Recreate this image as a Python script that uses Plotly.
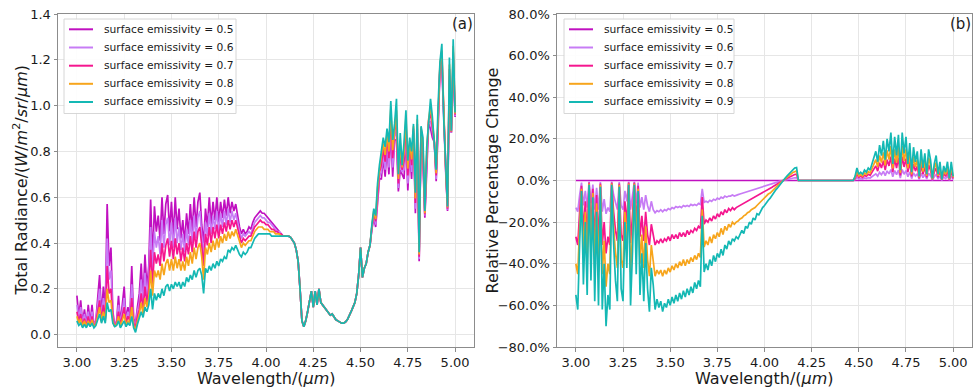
import numpy as np
import plotly.graph_objects as go

# Wavelength grid, 3.00 .. 5.00 um in 0.01 um steps
wavelength = np.round(np.arange(300, 501) / 100, 2)

emissivity = ["0.5", "0.6", "0.7", "0.8", "0.9"]
colors = ["#c010c0", "#c77cf5", "#f5168f", "#f7a51c", "#14b8b4"]

# ---------------- (a) total radiance, W/m^2/sr/um ----------------
# 3.00 .. 4.09 um
rad_05_head = [
    0.17, 0.08, 0.15, 0.05, 0.11, 0.04, 0.13, 0.05, 0.13, 0.04,
    0.06, 0.18, 0.26, 0.08, 0.21, 0.10, 0.57, 0.30, 0.38, 0.10,
    0.04, 0.06, 0.17, 0.05, 0.13, 0.21, 0.06, 0.12, 0.08, 0.30,
    0.07, 0.05, 0.12, 0.18, 0.31, 0.15, 0.35, 0.20, 0.30, 0.59,
    0.32, 0.56, 0.45, 0.52, 0.41, 0.60, 0.44, 0.57, 0.61, 0.45,
    0.58, 0.43, 0.60, 0.46, 0.55, 0.42, 0.50, 0.40, 0.53, 0.44,
    0.57, 0.45, 0.60, 0.47, 0.58, 0.62, 0.48, 0.40, 0.55, 0.47,
    0.60, 0.48, 0.58, 0.50, 0.60, 0.49, 0.58, 0.51, 0.59, 0.52,
    0.60, 0.53, 0.58, 0.54, 0.57, 0.51, 0.47, 0.44, 0.46, 0.44,
    0.45, 0.47, 0.46, 0.49, 0.51, 0.52, 0.53, 0.54, 0.53, 0.53,
    0.52, 0.51, 0.50, 0.49, 0.48, 0.47, 0.46, 0.45, 0.44, 0.43,
]
rad_06_head = [
    0.13, 0.07, 0.12, 0.045, 0.09, 0.04, 0.10, 0.045, 0.10, 0.04,
    0.055, 0.14, 0.20, 0.07, 0.16, 0.085, 0.42, 0.24, 0.28, 0.08,
    0.04, 0.055, 0.13, 0.045, 0.10, 0.16, 0.055, 0.10, 0.07, 0.22,
    0.06, 0.04, 0.10, 0.14, 0.24, 0.13, 0.27, 0.17, 0.25, 0.47,
    0.27, 0.45, 0.38, 0.43, 0.35, 0.50, 0.38, 0.48, 0.51, 0.39,
    0.49, 0.38, 0.51, 0.40, 0.47, 0.37, 0.44, 0.36, 0.46, 0.39,
    0.50, 0.40, 0.52, 0.42, 0.51, 0.54, 0.43, 0.35, 0.49, 0.43,
    0.53, 0.44, 0.52, 0.46, 0.54, 0.45, 0.53, 0.47, 0.54, 0.48,
    0.55, 0.49, 0.54, 0.50, 0.53, 0.48, 0.45, 0.42, 0.44, 0.43,
    0.44, 0.45, 0.44, 0.47, 0.49, 0.50, 0.51, 0.52, 0.51, 0.51,
    0.50, 0.49, 0.49, 0.48, 0.47, 0.46, 0.45, 0.45, 0.44, 0.43,
]
rad_07_head = [
    0.10, 0.06, 0.09, 0.04, 0.07, 0.035, 0.08, 0.04, 0.08, 0.035,
    0.05, 0.11, 0.15, 0.06, 0.13, 0.07, 0.30, 0.18, 0.20, 0.07,
    0.035, 0.05, 0.10, 0.04, 0.08, 0.12, 0.05, 0.08, 0.06, 0.16,
    0.05, 0.03, 0.08, 0.11, 0.18, 0.11, 0.21, 0.14, 0.20, 0.37,
    0.22, 0.36, 0.31, 0.35, 0.30, 0.40, 0.32, 0.39, 0.42, 0.34,
    0.41, 0.33, 0.42, 0.35, 0.40, 0.32, 0.38, 0.32, 0.40, 0.35,
    0.43, 0.36, 0.45, 0.38, 0.45, 0.47, 0.39, 0.30, 0.44, 0.39,
    0.47, 0.40, 0.47, 0.42, 0.48, 0.42, 0.48, 0.44, 0.49, 0.45,
    0.50, 0.46, 0.50, 0.47, 0.50, 0.46, 0.43, 0.40, 0.42, 0.41,
    0.42, 0.43, 0.43, 0.45, 0.47, 0.48, 0.49, 0.50, 0.49, 0.49,
    0.48, 0.48, 0.47, 0.46, 0.46, 0.45, 0.45, 0.44, 0.44, 0.43,
]
rad_08_head = [
    0.08, 0.05, 0.07, 0.035, 0.06, 0.035, 0.06, 0.04, 0.065, 0.035,
    0.045, 0.09, 0.12, 0.055, 0.10, 0.06, 0.20, 0.14, 0.15, 0.06,
    0.035, 0.045, 0.08, 0.035, 0.06, 0.09, 0.04, 0.06, 0.05, 0.12,
    0.04, 0.02, 0.06, 0.09, 0.14, 0.09, 0.16, 0.12, 0.16, 0.28,
    0.17, 0.28, 0.25, 0.28, 0.24, 0.31, 0.26, 0.31, 0.33, 0.28,
    0.33, 0.28, 0.34, 0.29, 0.33, 0.28, 0.32, 0.28, 0.34, 0.30,
    0.36, 0.31, 0.38, 0.33, 0.38, 0.40, 0.34, 0.24, 0.38, 0.35,
    0.40, 0.36, 0.41, 0.37, 0.42, 0.38, 0.43, 0.40, 0.44, 0.41,
    0.45, 0.42, 0.45, 0.43, 0.46, 0.43, 0.40, 0.38, 0.40, 0.39,
    0.40, 0.41, 0.41, 0.43, 0.45, 0.46, 0.47, 0.47, 0.47, 0.46,
    0.46, 0.46, 0.45, 0.45, 0.45, 0.44, 0.44, 0.44, 0.43, 0.43,
]
rad_09_head = [
    0.06, 0.04, 0.05, 0.03, 0.045, 0.03, 0.05, 0.035, 0.05, 0.03,
    0.04, 0.07, 0.09, 0.05, 0.08, 0.05, 0.14, 0.10, 0.11, 0.05,
    0.035, 0.04, 0.06, 0.03, 0.045, 0.06, 0.035, 0.05, 0.04, 0.08,
    0.03, 0.01, 0.045, 0.07, 0.10, 0.075, 0.12, 0.10, 0.13, 0.20,
    0.11, 0.18, 0.15, 0.18, 0.16, 0.20, 0.17, 0.21, 0.22, 0.19,
    0.22, 0.20, 0.23, 0.21, 0.23, 0.20, 0.23, 0.21, 0.25, 0.23,
    0.26, 0.24, 0.28, 0.25, 0.28, 0.29, 0.26, 0.18, 0.29, 0.27,
    0.30, 0.28, 0.31, 0.29, 0.32, 0.30, 0.33, 0.32, 0.34, 0.33,
    0.37, 0.36, 0.38, 0.37, 0.39, 0.37, 0.35, 0.34, 0.36, 0.35,
    0.36, 0.38, 0.38, 0.40, 0.42, 0.43, 0.44, 0.44, 0.44, 0.44,
    0.44, 0.44, 0.44, 0.43, 0.43, 0.43, 0.43, 0.43, 0.43, 0.43,
]
# 4.10 .. 4.55 um, where all five curves coincide
rad_shared = [
    0.43, 0.43, 0.43, 0.425, 0.415, 0.40, 0.37, 0.32, 0.20, 0.06,
    0.035, 0.06, 0.10, 0.14, 0.19, 0.12, 0.19, 0.13, 0.20, 0.14,
    0.13, 0.12, 0.11, 0.10, 0.085, 0.09, 0.075, 0.065, 0.06, 0.055,
    0.05, 0.05, 0.055, 0.065, 0.08, 0.10, 0.12, 0.14, 0.18, 0.26,
    0.38, 0.25, 0.29, 0.31, 0.36, 0.39,
]
# 4.56 .. 5.00 um
rad_05_tail = [
    0.46, 0.51, 0.47, 0.58, 0.68, 0.68, 0.77, 0.69, 0.82, 0.70,
    0.89, 0.69, 0.85, 0.85, 0.625, 0.72, 0.70, 0.68, 0.87, 0.63,
    0.80, 0.68, 0.88, 0.53, 0.88, 0.32, 0.89, 0.75, 0.51, 0.73,
    0.92, 0.90, 0.86, 0.84, 0.67, 0.89, 1.16, 1.17, 0.935, 0.70,
    0.54, 1.11, 0.88, 1.18, 0.95,
]
rad_06_tail = [
    0.465, 0.52, 0.48, 0.60, 0.69, 0.71, 0.79, 0.72, 0.84, 0.73,
    0.92, 0.73, 0.865, 0.89, 0.64, 0.76, 0.71, 0.72, 0.895, 0.66,
    0.815, 0.71, 0.89, 0.55, 0.90, 0.33, 0.895, 0.775, 0.52, 0.75,
    0.927, 0.93, 0.88, 0.842, 0.68, 0.915, 1.167, 1.19, 0.936, 0.71,
    0.545, 1.13, 0.882, 1.205, 0.955,
]
rad_07_tail = [
    0.47, 0.53, 0.495, 0.62, 0.71, 0.74, 0.815, 0.755, 0.86, 0.77,
    0.955, 0.77, 0.885, 0.94, 0.66, 0.80, 0.72, 0.76, 0.925, 0.695,
    0.83, 0.74, 0.90, 0.575, 0.92, 0.34, 0.90, 0.805, 0.525, 0.775,
    0.935, 0.965, 0.905, 0.845, 0.695, 0.945, 1.175, 1.22, 0.937, 0.725,
    0.55, 1.16, 0.885, 1.235, 0.96,
]
rad_08_tail = [
    0.475, 0.54, 0.505, 0.64, 0.72, 0.77, 0.835, 0.785, 0.88, 0.80,
    0.985, 0.805, 0.90, 0.98, 0.68, 0.835, 0.73, 0.795, 0.95, 0.725,
    0.845, 0.765, 0.91, 0.595, 0.94, 0.35, 0.905, 0.83, 0.53, 0.795,
    0.94, 0.995, 0.925, 0.847, 0.705, 0.97, 1.18, 1.24, 0.939, 0.735,
    0.555, 1.18, 0.887, 1.26, 0.965,
]
rad_09_tail = [
    0.48, 0.55, 0.52, 0.66, 0.74, 0.80, 0.86, 0.82, 0.90, 0.84,
    1.02, 0.85, 0.92, 1.03, 0.70, 0.88, 0.74, 0.84, 0.98, 0.76,
    0.86, 0.80, 0.92, 0.62, 0.96, 0.36, 0.91, 0.86, 0.54, 0.82,
    0.95, 1.03, 0.95, 0.85, 0.72, 1.00, 1.19, 1.27, 0.94, 0.75,
    0.56, 1.21, 0.89, 1.29, 0.97,
]

radiance = [
    rad_05_head + rad_shared + rad_05_tail,
    rad_06_head + rad_shared + rad_06_tail,
    rad_07_head + rad_shared + rad_07_tail,
    rad_08_head + rad_shared + rad_08_tail,
    rad_09_head + rad_shared + rad_09_tail,
]

# ---------------- (b) relative change vs emissivity 0.5, % ----------------
# 3.00 .. 4.17 um
rel_06_head = [
    -13, -15, -7, -1, -12, -5, -13, -0.5, -11, -2,
    -14, -3.5, -14, -0.7, -15, -9, -16, -13, -15, -0.5,
    -7, -11, -14, -0.7, -12, -14, -5, -10, -0.5, -14,
    -8, -0.5, -11, -1, -13, -8, -14, -7, -12, -15,
    -10,
    -14, -15.5, -14.5, -15, -14, -15, -14, -14.5, -13.5, -14,
    -13, -13.5, -12.5, -13, -12.5, -13, -12, -12.5, -12, -12.5,
    -11.5, -12, -11.5, -12, -11, -11.5,
    -4,
    -10.5, -10, -10.5, -9.5, -10, -9, -9.5, -8.5, -9, -8,
    -8.5, -7.5, -8, -7.5, -7.5, -7, -7.5, -7, -6.8, -6.5,
    -6.2, -6, -5.7, -5.4, -5.1, -4.8, -4.5, -4.3, -4, -3.7,
    -3.4, -3.1, -2.8, -2.5, -2.2, -1.9, -1.6, -1.3, -1, -0.7,
    -0.4, -0.2,
    0.05, 0.3, 0.5, 0.7, 0.9, 1.1, 1.3, 1.4,
]
rel_07_head = [
    -27, -31, -15, -2.5, -25, -10, -27, -1, -24, -4,
    -29, -7, -30, -1.5, -31, -20, -35, -27, -31, -1,
    -15, -24, -29, -1.5, -26, -29, -10, -21, -1, -30,
    -17, -1, -22, -2.5, -27, -17, -29, -15, -26, -31,
    -21,
    -27, -31, -29, -30, -28, -30, -28, -29, -27, -29,
    -26, -28, -26, -28, -25, -27, -25, -27, -24, -26,
    -24, -25, -23, -24, -22, -23,
    -8,
    -21, -19, -20, -18, -19.5, -17, -18.5, -16, -17.5, -15,
    -16.5, -14, -15.5, -13.5, -14.5, -13, -14, -13, -12.5, -12,
    -11.5, -11, -10.5, -10, -9.5, -9, -8.5, -8, -7.5, -7,
    -6.5, -6, -5.5, -5, -4.3, -3.8, -3.2, -2.6, -2, -1.5,
    -1, -0.5,
    0.1, 0.6, 1.1, 1.6, 2.0, 2.5, 2.9, 3.0,
]
rel_08_head = [
    -40, -45, -22, -4, -36, -15, -40, -1.5, -35, -6,
    -42, -11, -44, -2, -45, -29, -51, -40, -45, -1.5,
    -22, -35, -42, -2, -38, -42, -15, -31, -1.5, -44,
    -26, -1.5, -33, -4, -40, -26, -42, -22, -38, -46,
    -31,
    -38, -46, -43, -45, -43, -46, -43, -45, -42, -44,
    -41, -43, -40, -42, -39, -41, -38, -41, -38, -40,
    -37, -39, -36, -38, -35, -37,
    -14,
    -32, -29, -31, -27, -30, -26, -28, -25, -27, -23,
    -26, -22, -24, -21, -22.5, -20, -21, -20, -19.5, -18.5,
    -18, -17, -16.5, -15.5, -15, -14, -13.5, -13, -12, -11,
    -10, -9.5, -8.5, -7.5, -6.5, -6, -5, -4, -3.2, -2.4,
    -1.5, -0.7,
    0.15, 0.9, 1.7, 2.4, 3.1, 3.8, 4.4, 4.6,
]
rel_09_head = [
    -55, -62, -30, -5, -50, -20, -55, -2, -48, -8,
    -58, -15, -60, -3, -62, -40, -70, -55, -62, -2,
    -30, -48, -58, -3, -52, -58, -20, -42, -2, -60,
    -35, -2, -45, -5, -55, -35, -58, -30, -52, -63,
    -42,
    -50, -62, -57, -61, -58, -63, -59, -61, -57, -60,
    -56, -59, -55, -58, -54, -57, -53, -56, -52, -55,
    -51, -54, -49, -52, -48, -51,
    -17,
    -44, -40, -43, -38, -41, -36, -39, -35, -37, -33,
    -36, -31, -33, -29, -31, -28, -29, -27, -28, -26,
    -24, -25.5, -22, -23, -20, -21, -18, -19, -16, -16.5,
    -14.5, -13, -12, -10.5, -9.5, -8.5, -7, -6, -4.5, -3.5,
    -2.2, -1,
    0.2, 1.2, 2.2, 3.2, 4.2, 5.2, 6.0, 6.2,
]
# 4.18 .. 4.47 um: no change
rel_flat = [0.0] * 30
# 4.48 .. 5.00 um
rel_06_tail = [
    0.5, 1.4, 0.7, 0.9, 0.7, 1.2, 0.9, 1.4, 1.2, 1.8,
    2.3, 3.2, 2.1, 3.9, 2.8, 4.4, 2.3, 4.6, 3.2, 5.3,
    1.8, 4.8, 2.8, 5.0, 1.2, 5.3, 3.0, 4.8, 1.8, 4.1,
    0.9, 3.7, 2.1, 3.2, 0.5, 3.5, 1.4, 3.0, 0.7, 3.5,
    2.3, 0.2, 1.8, 2.8, 0.7, 2.1, 0.1, 1.6, 0.9, 2.1,
    0.2, 2.1, 0.5,
]
rel_07_tail = [
    1, 3, 1.5, 2, 1.5, 2.5, 2, 3, 2.5, 4,
    5, 7, 4.5, 8.5, 6, 9.5, 5, 10, 7, 11.5,
    4, 10.5, 6, 11, 2.5, 11.5, 6.5, 10.5, 4, 9,
    2, 8, 4.5, 7, 1, 7.5, 3, 6.5, 1.5, 7.5,
    5, 0.5, 4, 6, 1.5, 4.5, 0.3, 3.5, 2, 4.5,
    0.5, 4.5, 1,
]
rel_08_tail = [
    1.5, 4.3, 2.2, 2.9, 2.2, 3.6, 2.9, 4.3, 3.6, 5.8,
    7.2, 10, 6.5, 12, 8.6, 13.5, 7.2, 14.5, 10, 16.5,
    5.8, 15, 8.6, 16, 3.6, 16.5, 9.4, 15, 5.8, 13,
    2.9, 11.5, 6.5, 10, 1.5, 11, 4.3, 9.4, 2.2, 11,
    7.2, 0.7, 5.8, 8.6, 2.2, 6.5, 0.4, 5, 2.9, 6.5,
    0.7, 6.5, 1.5,
]
rel_09_tail = [
    2, 6, 3, 4, 3, 5, 4, 6, 5, 8,
    10, 14, 9, 17, 12, 19, 10, 20, 14, 23,
    8, 21, 12, 22, 5, 23, 13, 21, 8, 18,
    4, 16, 9, 14, 2, 15, 6, 13, 3, 15,
    10, 1, 8, 12, 3, 9, 0.5, 7, 4, 9,
    1, 9, 2,
]

relative_change = [
    [0.0] * 201,
    rel_06_head + rel_flat + rel_06_tail,
    rel_07_head + rel_flat + rel_07_tail,
    rel_08_head + rel_flat + rel_08_tail,
    rel_09_head + rel_flat + rel_09_tail,
]

for series in radiance + relative_change:
    assert len(series) == len(wavelength), len(series)

# ---------------- figure ----------------
W, H = 973, 388
FONT = "DejaVu Sans"
INK = "#1a1a1a"
LINE_W = 1.7


def px_x(p):
    return p / W


def px_y(p):
    return 1 - p / H


fig = go.Figure()

for k, e in enumerate(emissivity):
    fig.add_trace(go.Scatter(
        x=wavelength, y=radiance[k], mode="lines",
        name=f"surface emissivity = {e}",
        line=dict(color=colors[k], width=LINE_W),
        xaxis="x", yaxis="y", showlegend=False,
    ))
for k, e in enumerate(emissivity):
    fig.add_trace(go.Scatter(
        x=wavelength, y=relative_change[k], mode="lines",
        name=f"surface emissivity = {e}",
        line=dict(color=colors[k], width=LINE_W),
        xaxis="x2", yaxis="y2", showlegend=False,
    ))

axis_common = dict(
    showline=True, mirror=True, linecolor="#8c8c8c", linewidth=1,
    showgrid=True, gridcolor="#e6e6e6", gridwidth=1,
    zeroline=False, ticks="outside", ticklen=3.5, tickcolor="#8c8c8c",
    tickfont=dict(family=FONT, size=13, color=INK),
    automargin=False,
)
y_dom = [px_y(347), px_y(14)]

fig.update_layout(
    template="none",
    width=W, height=H,
    margin=dict(l=0, r=0, t=0, b=0, autoexpand=False),
    paper_bgcolor="white", plot_bgcolor="white",
    font=dict(family=FONT, color=INK),
    showlegend=False,
    xaxis=dict(axis_common, domain=[px_x(58), px_x(474)], range=[2.9, 5.1],
               tick0=3.0, dtick=0.25, tickformat=".2f", anchor="y"),
    yaxis=dict(axis_common, domain=y_dom, range=[-0.054, 1.4],
               tick0=0, dtick=0.2, tickformat=".1f", anchor="x"),
    xaxis2=dict(axis_common, domain=[px_x(557), px_x(972)], range=[2.9, 5.1],
                tick0=3.0, dtick=0.25, tickformat=".2f", anchor="y2"),
    yaxis2=dict(axis_common, domain=y_dom, range=[-80, 80],
                tick0=-80, dtick=20, tickformat=".1f", ticksuffix="%", anchor="x2"),
)

# Legend boxes drawn in page pixels (one per panel)
shapes = []
annotations = []
legend_boxes = [(64, 236), (564, 734)]      # left/right edge of each box
entry_rows = [29.3, 47.5, 65.7, 83.8, 102.0]
for left, right in legend_boxes:
    shapes.append(dict(type="rect", xref="paper", yref="paper",
                       x0=px_x(left), x1=px_x(right), y0=px_y(113.5), y1=px_y(19),
                       line=dict(color="#d4d4d4", width=1), fillcolor="white",
                       opacity=0.92, layer="above"))
    for k, e in enumerate(emissivity):
        yy = px_y(entry_rows[k])
        shapes.append(dict(type="line", xref="paper", yref="paper",
                           x0=px_x(left + 5), x1=px_x(left + 29), y0=yy, y1=yy,
                           line=dict(color=colors[k], width=2), layer="above"))
        annotations.append(dict(text=f"surface emissivity = {e}",
                                x=px_x(left + 37.5), y=yy, xanchor="left", yanchor="middle",
                                font=dict(family=FONT, size=10.7, color=INK)))

title_font = dict(family=FONT, size=16, color=INK)
annotations += [
    dict(text="Total Radiance/(<i>W</i>/<i>m</i><sup>2</sup>/<i>sr</i>/<i>μm</i>)",
         x=px_x(21), y=px_y(180.5), textangle=-90, font=title_font),
    dict(text="Relative Percentage Change",
         x=px_x(492), y=px_y(180.5), textangle=-90, font=title_font),
    dict(text="Wavelength/(<i>μm</i>)", x=px_x(266), y=px_y(378.5), font=title_font,
         borderpad=0),
    dict(text="Wavelength/(<i>μm</i>)", x=px_x(764.5), y=px_y(378.5), font=title_font,
         borderpad=0),
    dict(text="(a)", x=px_x(462), y=px_y(23.5), font=dict(family=FONT, size=15, color=INK)),
    dict(text="(b)", x=px_x(960), y=px_y(23.5), font=dict(family=FONT, size=15, color=INK)),
]
for a in annotations:
    a.setdefault("xanchor", "center")
    a.setdefault("yanchor", "middle")
    a.update(xref="paper", yref="paper", showarrow=False)
fig.update_layout(shapes=shapes, annotations=annotations)

fig.write_html("out.html")
